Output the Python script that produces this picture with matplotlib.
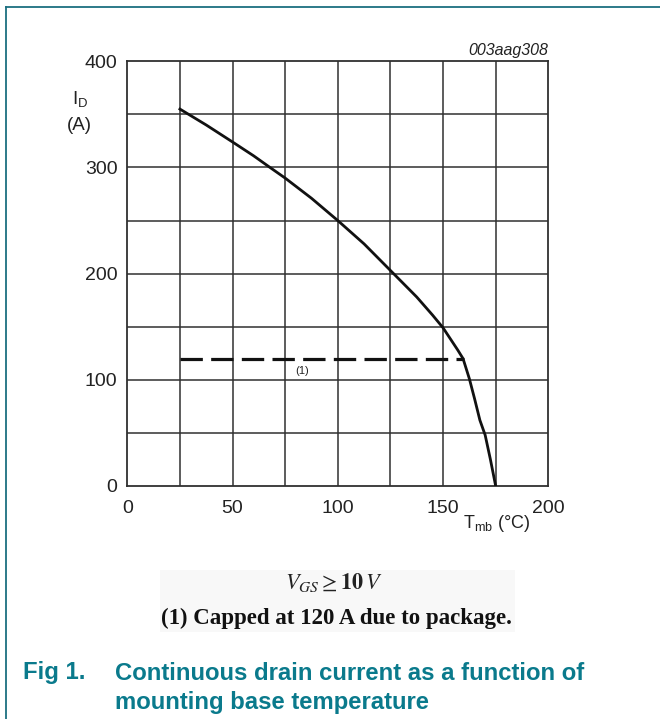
import numpy as np
import matplotlib
matplotlib.use("Agg")
import matplotlib.pyplot as plt
from matplotlib.patches import Rectangle

# drain current vs mounting base temperature
t_mb = [25, 37.5, 50, 60, 67.8, 75, 87.5, 100, 112.5, 125, 137.5, 145, 150, 154, 157,
        159.5, 162.5, 165, 167.5, 170, 172.5, 175]
i_d = [355, 340, 324, 311, 300, 290, 271, 250, 228, 203, 178, 161, 149, 137, 128,
       120, 101, 82, 62, 48, 25, 0]

# package limit (1)
t_cap = [25, 160]
i_cap = [120, 120]

x_ticks = [0, 50, 100, 150, 200]
y_ticks = [0, 100, 200, 300, 400]

teal = '#0a7a8c'
grid_col = '#303030'
txt_col = '#222222'

W, H = 660, 719
fig = plt.figure(figsize=(W / 100, H / 100), dpi=100)
plt.rcParams['font.family'] = ['Liberation Sans', 'DejaVu Sans']

def fx(px):
    return px / W

def fy(py):
    return 1 - py / H

# plot area in pixel coords
left, right, top, bottom = 127.3, 548.3, 61.3, 486
ax = fig.add_axes([fx(left), fy(bottom), fx(right) - fx(left), fy(top) - fy(bottom)])
ax.set_xlim(0, 200)
ax.set_ylim(0, 400)

for x in np.arange(25, 200, 25):
    ax.axvline(x, color=grid_col, lw=1.1, zorder=1)
for y in np.arange(50, 400, 50):
    ax.axhline(y, color=grid_col, lw=1.1, zorder=1)
for s in ax.spines.values():
    s.set_color(grid_col)
    s.set_linewidth(1.3)

ax.plot(t_mb, i_d, color='#111111', lw=2.0, zorder=3, solid_joinstyle='round')
ax.plot(t_cap, i_cap, color='#111111', lw=2.3, zorder=3, dashes=(7, 2.6))
ax.text(83, 108, '(1)', fontsize=8, ha='center', va='center', color=txt_col)

ax.set_xticks(x_ticks)
ax.set_yticks(y_ticks)
ax.tick_params(length=0, labelsize=14, colors=txt_col)
ax.tick_params(axis='y', pad=7)
ax.tick_params(axis='x', pad=10)

fig.text(fx(497), fy(523), r'T$_{\mathregular{mb}}$ (°C)', fontsize=13, ha='center', va='center', color=txt_col)
fig.text(fx(80), fy(100), r'I$_{\mathregular{D}}$', fontsize=13.5, ha='center', va='center', color=txt_col)
fig.text(fx(79), fy(125), '(A)', fontsize=13.5, ha='center', va='center', color=txt_col)
fig.text(fx(548), fy(50), '003aag308', fontsize=11.5, ha='right', va='center', style='italic', color=txt_col)

# note block under the chart
fig.patches.append(Rectangle((fx(160), fy(632)), fx(515) - fx(160), fy(570) - fy(632),
                             transform=fig.transFigure, facecolor='#f8f8f8', edgecolor='none', zorder=0))
fig.text(fx(334), fy(583), r'$V_{GS} \geq \mathbf{10}\,V$', fontsize=16, ha='center', va='center',
         color=txt_col, math_fontfamily='stix')
fig.text(fx(336), fy(618), '(1) Capped at 120 A due to package.', fontsize=16.5, ha='center', va='center',
         family='Liberation Serif', weight='bold', color='#111111')

# caption
fig.text(fx(23), fy(673), 'Fig 1.', fontsize=17.2, weight='bold', color=teal, ha='left', va='center')
fig.text(fx(115), fy(673), 'Continuous drain current as a function of', fontsize=17.2, weight='bold',
         color=teal, ha='left', va='center')
fig.text(fx(115), fy(703), 'mounting base temperature', fontsize=17.2, weight='bold',
         color=teal, ha='left', va='center')

# frame lines at top and left
fig.add_artist(plt.Line2D([fx(6), 1], [fy(7), fy(7)], transform=fig.transFigure, color='#1b6f80', lw=1.3))
fig.add_artist(plt.Line2D([fx(6), fx(6)], [fy(7), 0], transform=fig.transFigure, color='#1b6f80', lw=1.3))

fig.savefig('out.png', dpi=100)
